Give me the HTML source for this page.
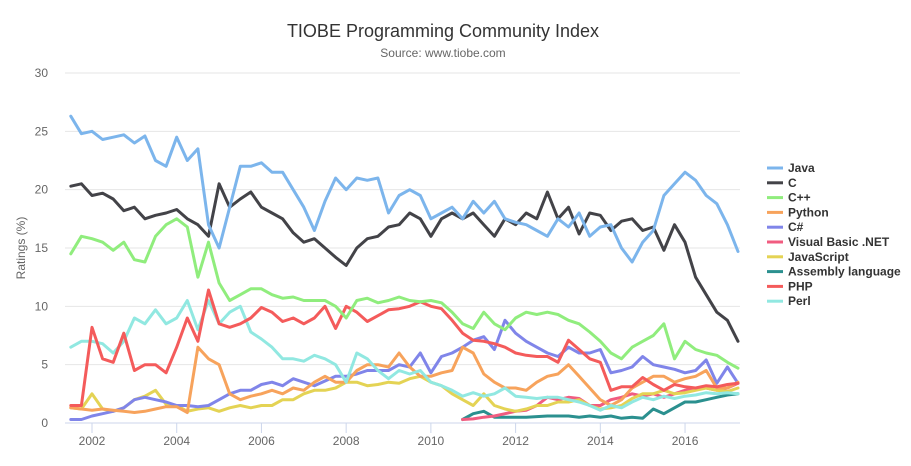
<!DOCTYPE html>
<html><head><meta charset="utf-8"><style>
body{margin:0;background:#fff;font-family:"Liberation Sans",sans-serif}
svg text{font-family:"Liberation Sans",sans-serif}
</style></head><body>
<svg id="chart" width="911" height="461" xmlns="http://www.w3.org/2000/svg">
<text x="443" y="37" text-anchor="middle" font-size="18" fill="#333">TIOBE Programming Community Index</text>
<text x="443" y="57" text-anchor="middle" font-size="12" fill="#666">Source: www.tiobe.com</text>
<text transform="translate(25,248) rotate(-90)" text-anchor="middle" font-size="12" fill="#666">Ratings (%)</text>
<g id="grid"></g><g id="series"></g><g id="legend"></g>
</svg>
<script>
const seriesNames=["Java","C","C++","Python","C#","Visual Basic .NET","JavaScript","Assembly language","PHP","Perl"];
const seriesColors=["#7cb5ec","#434348","#90ed7d","#f7a35c","#8085e9","#f15c80","#e4d354","#2b908f","#f45b5b","#91e8e1"];
const seriesStart=[2001.5,2001.5,2001.5,2001.5,2001.5,2010.75,2001.5,2010.75,2001.5,2001.5];
const yTicks=[0,5,10,15,20,25,30];
const xTicks=[2002,2004,2006,2008,2010,2012,2014,2016];
const javaVals=[26.3,24.8,25,24.3,24.5,24.7,24,24.6,22.5,22,24.5,22.5,23.5,17,15,18.5,22,22,22.3,21.5,21.5,20,18.5,16.5,19,21,20,21,20.8,21,18,19.5,20,19.5,17.5,18,18.5,17.5,19,18,19,17.5,17.2,17,16.5,16,17.5,16.8,18,16,16.8,17,15,13.8,15.5,16.5,19.5,20.5,21.5,20.8,19.5,18.8,17,14.7];
const cVals=[20.3,20.5,19.5,19.7,19.2,18.2,18.5,17.5,17.8,18,18.3,17.5,17,16,20.5,18.5,19.2,19.8,18.5,18,17.5,16.3,15.5,15.8,15,14.2,13.5,15,15.8,16,16.8,17,18,17.5,16,17.5,18,17.5,18,17,16,17.5,17,18,17.5,19.8,17.5,18.5,16.2,18,17.8,16.5,17.3,17.5,16.5,16.8,14.8,17,15.5,12.5,11,9.5,8.8,7];
const cppVals=[14.5,16,15.8,15.5,14.8,15.5,14,13.8,16,17,17.5,16.8,12.5,15.5,12,10.5,11,11.5,11.5,11,10.7,10.8,10.5,10.5,10.5,10,9,10.5,10.7,10.3,10.5,10.8,10.5,10.4,10.5,10.3,9.5,8.5,8.1,9.5,8.5,8,9,9.5,9.3,9.5,9.3,8.8,8.5,7.8,7,6,5.5,6.5,7,7.5,8.5,5.5,7,6.3,6,5.8,5.2,4.7];
const pythonVals=[1.3,1.2,1.1,1.2,1.1,1.0,0.9,1.0,1.2,1.4,1.4,0.9,6.5,5.5,5,2.5,2,2.3,2.5,2.8,2.5,3,2.8,3.5,4,3.5,3.5,4.5,5,5,4.8,6,4.8,4,4,4.3,4.5,6.5,6,4.2,3.5,3,3,2.8,3.5,4,4.2,5,4,3,2,1.5,2,3,3.5,4,4,3.5,3.8,4,4.5,3,3,3.5];
const csharpVals=[0.3,0.3,0.6,0.8,1,1.3,2,2.2,2,1.8,1.5,1.5,1.4,1.5,2,2.5,2.8,2.8,3.3,3.5,3.2,3.8,3.5,3.2,3.6,4,4,4.2,4.5,4.5,4.5,5,4.8,6,4.3,5.7,6,6.5,7.1,7.4,6.3,8.8,7.7,7,6.5,6,5.7,6.5,6,6,6.3,4.3,4.5,4.8,5.7,5,4.8,4.6,4.3,4.5,5.4,3.4,4.8,3.4];
const vbVals=[0.3,0.35,0.5,0.6,0.8,1.0,1.1,1.5,2.2,2,2.2,2.1,1.5,1.5,2,2.2,2.5,2.3,2.5,2.2,2.5,2.8,3,3,2.8,3.0,3.4];
const jsVals=[1.3,1.2,2.5,1.2,1.0,1.3,2,2.3,2.8,1.6,1.5,1.0,1.2,1.3,1.0,1.3,1.5,1.3,1.5,1.5,2,2,2.5,2.8,2.8,3,3.5,3.5,3.2,3.3,3.5,3.4,3.8,4,3.5,3.2,2.5,2,1.5,2.5,1.5,1.2,1,1.2,1.5,1.5,1.8,1.8,2,1.5,1.2,1.3,1.5,2.1,2.5,2.5,2.8,2.5,2.6,2.8,3,2.8,2.7,3.0];
const asmVals=[0.3,0.8,1.0,0.5,0.5,0.5,0.5,0.55,0.6,0.6,0.6,0.5,0.6,0.5,0.6,0.4,0.5,0.4,1.2,0.8,1.3,1.8,1.8,2.0,2.2,2.4,2.5];
const phpVals=[1.5,1.5,8.2,5.5,5.2,7.7,4.5,5,5,4.3,6.5,9,7,11.4,8.5,8.2,8.5,9,9.9,9.5,8.7,9,8.5,9,10,8.1,10,9.5,8.7,9.2,9.7,9.8,10,10.4,10,9.8,8.8,7.7,7.1,7,6.8,6.5,6,5.8,5.7,5.7,5.2,7.1,6.3,5.5,5.2,2.8,3.1,3.1,3.9,3.3,2.8,3.3,3.1,3.0,3.2,3.1,3.3,3.4];
const perlVals=[6.5,7,7,6.8,6,7,9,8.5,9.7,8.5,9,10.5,8,10.5,8.5,9.5,10,7.8,7.2,6.5,5.5,5.5,5.3,5.8,5.5,5,3.5,6,5.5,4.5,3.8,4.5,4.2,4.5,3.5,3.2,2.8,2.3,2.6,2.3,2.5,3,2.3,2.2,2.1,2.2,2.2,2,1.8,1.5,1.1,1.5,1.3,1.8,2.2,2,2.3,2.1,2.3,2.4,2.6,2.5,2.6,2.5];
const allVals=[javaVals,cVals,cppVals,pythonVals,csharpVals,vbVals,jsVals,asmVals,phpVals,perlVals];
const NS="http://www.w3.org/2000/svg";
function xs(t){return 92+(t-2002)*42.36;}
function ys(v){return 423-v*350/30;}
function mk(tag,attrs,parent){const e=document.createElementNS(NS,tag);for(const k in attrs)e.setAttribute(k,attrs[k]);parent.appendChild(e);return e;}
const grid=document.getElementById('grid');
yTicks.forEach(v=>{
  const l=mk('line',{x1:65,x2:740,y1:ys(v),y2:ys(v),stroke:v===0?'#ccd6eb':'#e6e6e6','stroke-width':1},grid);
  
  
  const t=mk('text',{x:48,y:ys(v)+4,'text-anchor':'end','font-size':12,fill:'#666'},grid);
  t.textContent=v;
  
  
});
xTicks.forEach(yr=>{
  const l=mk('line',{x1:xs(yr),x2:xs(yr),y1:423,y2:433,stroke:'#ccd6eb'},grid);
  
  
  const t=mk('text',{x:xs(yr),y:445,'text-anchor':'middle','font-size':12,fill:'#666'},grid);
  t.textContent=yr;
  
  
});
const sg=document.getElementById('series');
const order=[7,5,6,4,3,9,8,2,1,0];
order.forEach(i=>{
  const pts=allVals[i].map((v,k)=>xs(seriesStart[i]+k*0.25).toFixed(1)+','+ys(v).toFixed(1)).join(' ');
  const p=mk('polyline',{points:pts,fill:'none',stroke:seriesColors[i],'stroke-width':3,'stroke-linejoin':'round','stroke-linecap':'round'},sg);
  
  
});
const lg=document.getElementById('legend');
seriesNames.forEach((n,i)=>{
  const y=168+i*14.8;
  const g=mk('g',{},lg);
  
  
  mk('line',{x1:767,x2:783,y1:y,y2:y,stroke:seriesColors[i],'stroke-width':3},g);
  const t=mk('text',{x:788,y:y+4,'font-size':12,'font-weight':'bold',fill:'#333'},g);
  t.textContent=n;
});
</script>
</body></html>
